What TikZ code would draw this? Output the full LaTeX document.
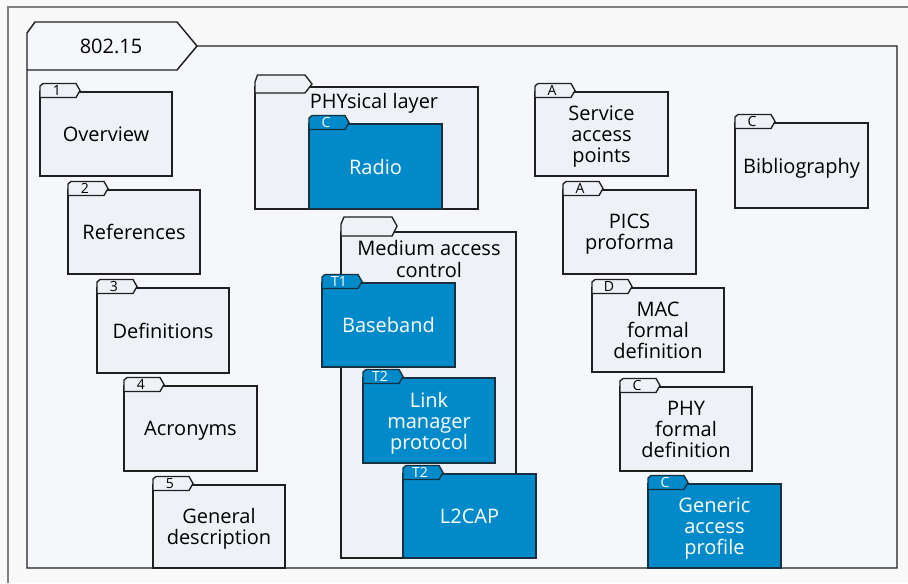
\documentclass[tikz,border=0pt]{standalone}
\usepackage{fontspec}
\setmainfont{Open Sans}
\usetikzlibrary{calc}

\definecolor{pagebg}{HTML}{F9F9F9}
\definecolor{framegray}{HTML}{808080}
\definecolor{pkgfill}{HTML}{F5F7FB}
\definecolor{foldfill}{HTML}{EEF1F6}
\definecolor{linecol}{HTML}{1F1F1F}
\definecolor{ieeeblue}{HTML}{008AC9}
\definecolor{blueline}{HTML}{16303F}

\tikzset{
  pkgline/.style={draw=linecol, line width=1.1pt},
  folder/.style 2 args={draw=linecol, fill=foldfill, line width=1pt,
    minimum width=#1*0.75pt, minimum height=#2*0.75pt,
    inner sep=0pt, outer sep=0pt, align=center, text depth=0pt,
    font=\fontsize{15}{15.8}\selectfont},
  bluefolder/.style 2 args={folder={#1}{#2}, draw=blueline, fill=ieeeblue, text=white},
  plaintab/.style={draw=linecol, fill=foldfill, line width=1pt},
  bluetab/.style={draw=blueline, fill=ieeeblue, line width=1pt},
  plaintabtext/.style={inner sep=0pt, font=\fontsize{10.5}{11}\selectfont},
  bluetabtext/.style={plaintabtext, text=white},
  grouplabel/.style={align=center, inner sep=0pt, font=\fontsize{15}{15.8}\selectfont},
  pkglabel/.style={inner sep=0pt, font=\fontsize{15}{16}\selectfont}
}

% tab on top of a folder: node, label, plain/blue
\newcommand{\filetab}[3]{%
  \filldraw[#3tab, shift={(#1.north west)}] (0,5.5) -- (0,-6) -- (3,-8.5) -- (36,-8.5) -- (40,-1.5) -- (36,5.5) -- cycle;
  \node[#3tabtext] (#1-tab) at ($(#1.north west)+(17,-1.5)$) {#2};
}

\begin{document}
\begin{tikzpicture}[x=0.75pt,y=-0.75pt]
\useasboundingbox (0,0) rectangle (908,583);
%Shape: Background
\fill[pagebg] (0,0) rectangle (908,583);
%Straight Lines: frame
\draw[framegray, line width=1.5pt] (8,583) -- (8,7) -- (908,7);

%Shape: Package 802.15
\filldraw[pkgline, fill=pkgfill] (27,568) -- (27,33) -- (35,22) -- (177,22) -- (197,46) -- (897,46) -- (897,568) -- cycle;
\draw[pkgline] (27,70) -- (177,70) -- (197,46);
% Text Node
\node[pkglabel] (pkg) at (111,46) {802.15};

%Shape: Clauses 1-5
\node[folder={132}{84}] (ovw) at (106,134) {Overview};
\filetab{ovw}{1}{plain}
\node[folder={132}{84}] (refs) at (134,232) {References};
\filetab{refs}{2}{plain}
\node[folder={132}{85}] (defs) at (163,330.5) {Definitions};
\filetab{defs}{3}{plain}
\node[folder={133}{85}] (acro) at (190.5,428.5) {Acronyms};
\filetab{acro}{4}{plain}
\node[folder={132}{83}] (gendesc) at (219,526.5) {General\\description};
\filetab{gendesc}{5}{plain}

%Shape: PHYsical layer
\node[folder={223}{122}] (phy) at (366.5,148) {};
\filldraw[plaintab, shift={(phy.north west)}] (0,6) -- (0,-5) -- (2.5,-12) -- (50,-12) -- (57,-3) -- (50,6) -- cycle;
\node[grouplabel] (phy-lbl) at (374,103) {PHYsical layer};
\node[bluefolder={133}{85}] (radio) at (375.5,166.5) {Radio};
\filetab{radio}{C}{blue}

%Shape: Medium access control
\node[folder={175}{326}] (mac) at (428.5,395) {};
\filldraw[plaintab, shift={(mac.north west)}] (0,4) -- (0,-8) -- (3,-15) -- (51,-15) -- (56,-6) -- (51,4) -- cycle;
\node[grouplabel] (mac-lbl) at (429,259) {Medium access\\control};
\node[bluefolder={133}{84}] (bb) at (388.5,325) {Baseband};
\filetab{bb}{T1}{blue}
\node[bluefolder={132}{85}] (lmp) at (429,420.5) {Link\\manager\\protocol};
\filetab{lmp}{T2}{blue}
\node[bluefolder={133}{84}] (l2cap) at (469.5,516) {L2CAP};
\filetab{l2cap}{T2}{blue}

%Shape: Annexes
\node[folder={133}{84}] (sap) at (601.5,134) {Service\\access\\points};
\filetab{sap}{A}{plain}
\node[folder={133}{84}] (pics) at (629.5,232) {PICS\\proforma};
\filetab{pics}{A}{plain}
\node[folder={132}{84}] (macfd) at (658,330) {MAC\\formal\\definition};
\filetab{macfd}{D}{plain}
\node[folder={132}{84}] (phyfd) at (686,429) {PHY\\formal\\definition};
\filetab{phyfd}{C}{plain}
\node[bluefolder={133}{84}] (gap) at (714.5,526) {Generic\\access\\profile};
\filetab{gap}{C}{blue}
\node[folder={133}{85}] (biblio) at (801.5,165.5) {Bibliography};
\filetab{biblio}{C}{plain}

\end{tikzpicture}
\end{document}
